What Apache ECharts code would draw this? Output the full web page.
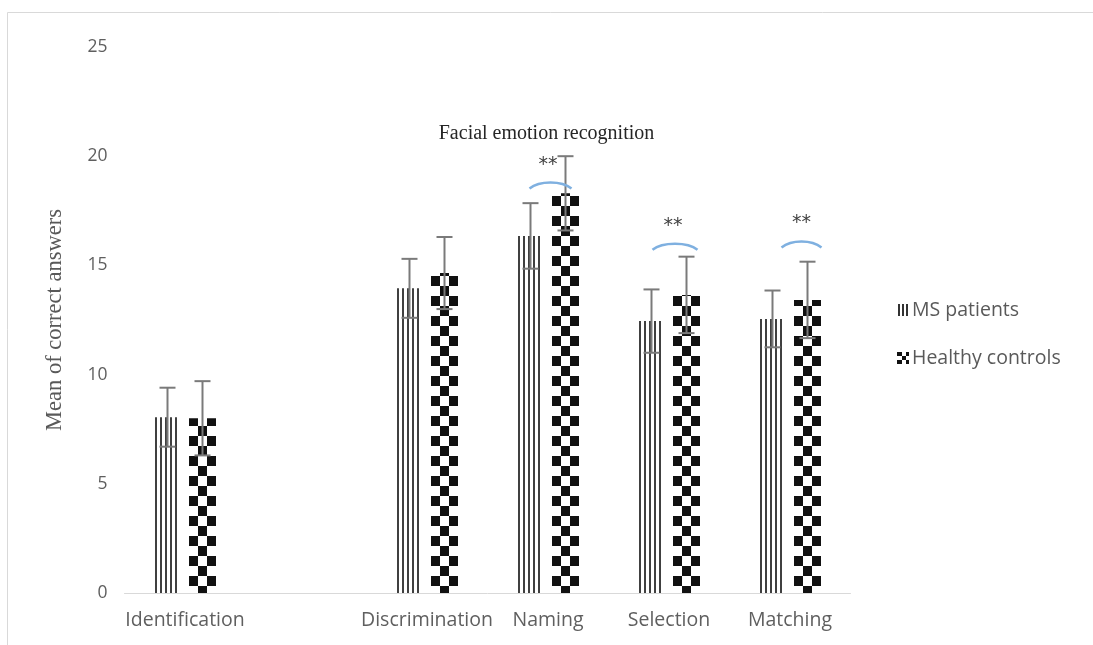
<!DOCTYPE html>
<html><head><meta charset="utf-8">
<script src="https://cdn.jsdelivr.net/npm/echarts@6/dist/echarts.min.js"></script>
<style>html,body{margin:0;padding:0;background:#fff}#c{width:1093px;height:645px}</style>
</head><body><div id="c"></div>
<script>
// ---- data ----
const categories = ['Identification', '', 'Discrimination', 'Naming', 'Selection', 'Matching'];
const seriesNames = ['MS patients', 'Healthy controls'];
const msMeans = [8.05, null, 13.95, 16.35, 12.45, 12.55];
const msSD    = [1.35, null, 1.35, 1.5, 1.45, 1.3];
const hcMeans = [8.0, null, 14.65, 18.3, 13.65, 13.42];
const hcSD    = [1.7, null, 1.65, 1.7, 1.75, 1.75];
const yTicks = [0, 5, 10, 15, 20, 25];
const sigCategories = ['Naming', 'Selection', 'Matching'];
const sigText = ['**', '**', '**'];
const sigArcLevel = [18.7, 15.9, 16.0];
const sigStarLevel = [19.6, 16.8, 16.95];

// ---- layout / style constants ----
const GRID_LEFT = 124.5, GRID_W = 726, GRID_TOP = 47, GRID_BOTTOM = 52;
const BAR_W = 27, BAR_GAP = 8;
const CAT_W = GRID_W / categories.length;
const GROUP_W = 2 * BAR_W + BAR_GAP;
const OFF_MS = -GROUP_W / 2 + BAR_W / 2, OFF_HC = GROUP_W / 2 - BAR_W / 2;
const SIG_ARC_DX = [2.5, 6, 11.5], SIG_STAR_DX = [0, 4, 11.5], SIG_ARC_W = [42, 45, 40];
const LEG_LEFT = 897, LEG_TOP = 298, LEG_LH = 24, LEG_GAP = 24, ICON_W = 12, ICON_H = 12;

function mkCanvas(w, h, draw) {
  const c = document.createElement('canvas'); c.width = w; c.height = h;
  const ctx = c.getContext('2d'); ctx.fillStyle = '#fff'; ctx.fillRect(0, 0, w, h); draw(ctx); return c;
}
const stripeTile = mkCanvas(BAR_W, 4, ctx => {
  ctx.fillStyle = '#404040';
  [1, 6, 11, 16, 21].forEach(x => ctx.fillRect(x, 0, 2, 4));
});
const checkTile = mkCanvas(BAR_W, 20, ctx => {
  ctx.fillStyle = '#111';
  ctx.fillRect(0, 0, 9, 10); ctx.fillRect(18, 0, 9, 10); ctx.fillRect(9, 10, 9, 10);
});
const stripeIcon = mkCanvas(ICON_W, ICON_H, ctx => {
  ctx.fillStyle = '#333';
  [0, 4, 8].forEach(x => ctx.fillRect(x, 0, 2, ICON_H));
});
const checkIcon = mkCanvas(ICON_W, ICON_H, ctx => {
  ctx.fillStyle = '#111';
  ctx.fillRect(8, 0, 4, 4); ctx.fillRect(0, 4, 8, 8);
});
function barLeft(i, off) { return GRID_LEFT + CAT_W * (i + 0.5) + off - BAR_W / 2; }

const msData = msMeans.map((v, i) => v == null ? '-' : {
  value: v, itemStyle: { color: { image: stripeTile, repeat: 'repeat', x: barLeft(i, OFF_MS), y: 0 } }
});
const hcData = hcMeans.map((v, i) => v == null ? '-' : {
  value: v, itemStyle: { color: { image: checkTile, repeat: 'repeat', x: barLeft(i, OFF_HC), y: 16 } }
});

function errSeries(means, sds, off) {
  return {
    type: 'custom', silent: true, z: 5,
    data: means.map((m, i) => m == null ? null : [i, m, sds[i]]).filter(d => d),
    renderItem: (params, api) => {
      const idx = api.value(0), m = api.value(1), sd = api.value(2);
      const x = api.coord([idx, m])[0] + off;
      const top = api.coord([idx, m + sd])[1], bot = api.coord([idx, m - sd])[1];
      const st = { stroke: '#7a7a7a', lineWidth: 2 };
      return { type: 'group', children: [
        { type: 'line', shape: { x1: x, y1: top, x2: x, y2: bot }, style: st },
        { type: 'line', shape: { x1: x - 8, y1: top, x2: x + 8, y2: top }, style: st },
        { type: 'line', shape: { x1: x - 8, y1: bot, x2: x + 8, y2: bot }, style: st }
      ]};
    }
  };
}

const chart = echarts.init(document.getElementById('c'), null, { renderer: 'canvas' });
chart.setOption({
  animation: false,
  backgroundColor: '#fff',
  title: {
    text: 'Facial emotion recognition', left: 'center', top: 119,
    textStyle: { fontFamily: 'Liberation Serif', fontSize: 20, fontWeight: 'normal', color: '#262626' }
  },
  legend: {
    orient: 'vertical', left: LEG_LEFT, top: LEG_TOP, itemGap: LEG_GAP, padding: 0,
    itemWidth: ICON_W, itemHeight: ICON_H, icon: 'rect', selectedMode: false,
    textStyle: { fontFamily: 'Open Sans', fontSize: 19.5, color: '#595959', lineHeight: LEG_LH, padding: [0, 0, 0, -2] },
    data: [
      { name: seriesNames[0], itemStyle: { color: { image: stripeIcon, repeat: 'repeat', x: LEG_LEFT, y: 0 } } },
      { name: seriesNames[1], itemStyle: { color: { image: checkIcon, repeat: 'repeat', x: LEG_LEFT, y: LEG_TOP + LEG_LH + LEG_GAP + (LEG_LH - ICON_H) / 2 } } }
    ]
  },
  grid: { left: GRID_LEFT, width: GRID_W, top: GRID_TOP, bottom: GRID_BOTTOM, containLabel: false },
  xAxis: {
    type: 'category', data: categories, boundaryGap: true,
    axisLine: { lineStyle: { color: '#d9d9d9', width: 1 } },
    axisTick: { show: false },
    axisLabel: { color: '#5f5f5f', fontFamily: 'Open Sans', fontSize: 19.5, margin: 17, interval: 0 }
  },
  yAxis: {
    type: 'value', min: yTicks[0], max: yTicks[yTicks.length - 1], interval: yTicks[1] - yTicks[0],
    splitLine: { show: false }, axisLine: { show: false }, axisTick: { show: false },
    axisLabel: { color: '#5f5f5f', fontFamily: 'Open Sans', fontSize: 17.5, margin: 17 },
    name: 'Mean of correct answers', nameLocation: 'middle', nameGap: 58,
    nameTextStyle: { fontFamily: 'Liberation Serif', fontSize: 22.5, color: '#595959' }
  },
  series: [
    { name: seriesNames[0], type: 'bar', data: msData, barWidth: BAR_W, barGap: (BAR_GAP / BAR_W * 100) + '%',
      emphasis: { disabled: true }, silent: true },
    { name: seriesNames[1], type: 'bar', data: hcData, barWidth: BAR_W, barGap: (BAR_GAP / BAR_W * 100) + '%',
      emphasis: { disabled: true }, silent: true },
    errSeries(msMeans, msSD, OFF_MS),
    errSeries(hcMeans, hcSD, OFF_HC),
    {
      type: 'custom', silent: true, z: 6,
      data: sigCategories.map((c, i) => [categories.indexOf(c), sigArcLevel[i], sigStarLevel[i], i]),
      renderItem: (params, api) => {
        const idx = api.value(0), k = api.value(3);
        const cx = api.coord([idx, api.value(1)])[0];
        const ay = api.coord([idx, api.value(1)])[1];
        const sy = api.coord([idx, api.value(2)])[1];
        const ax = cx + SIG_ARC_DX[k], hw = SIG_ARC_W[k] / 2;
        return { type: 'group', children: [
          { type: 'path', shape: { pathData: `M${ax - hw} ${ay + 4} C${ax - hw + 10} ${ay - 4} ${ax + hw - 10} ${ay - 4} ${ax + hw} ${ay + 4}` },
            style: { stroke: '#7fb0e0', lineWidth: 2.5, fill: null } },
          { type: 'text', x: cx + SIG_STAR_DX[k], y: sy,
            style: { text: sigText[k], fill: '#404040', font: '19px "DejaVu Sans"', align: 'center', verticalAlign: 'middle' } }
        ]};
      }
    }
  ],
  graphic: [{
    type: 'rect', z: -10, silent: true,
    shape: { x: 7.5, y: 12.5, width: 1200, height: 800 },
    style: { fill: null, stroke: '#d9d9d9', lineWidth: 1 }
  }]
});
</script></body></html>
